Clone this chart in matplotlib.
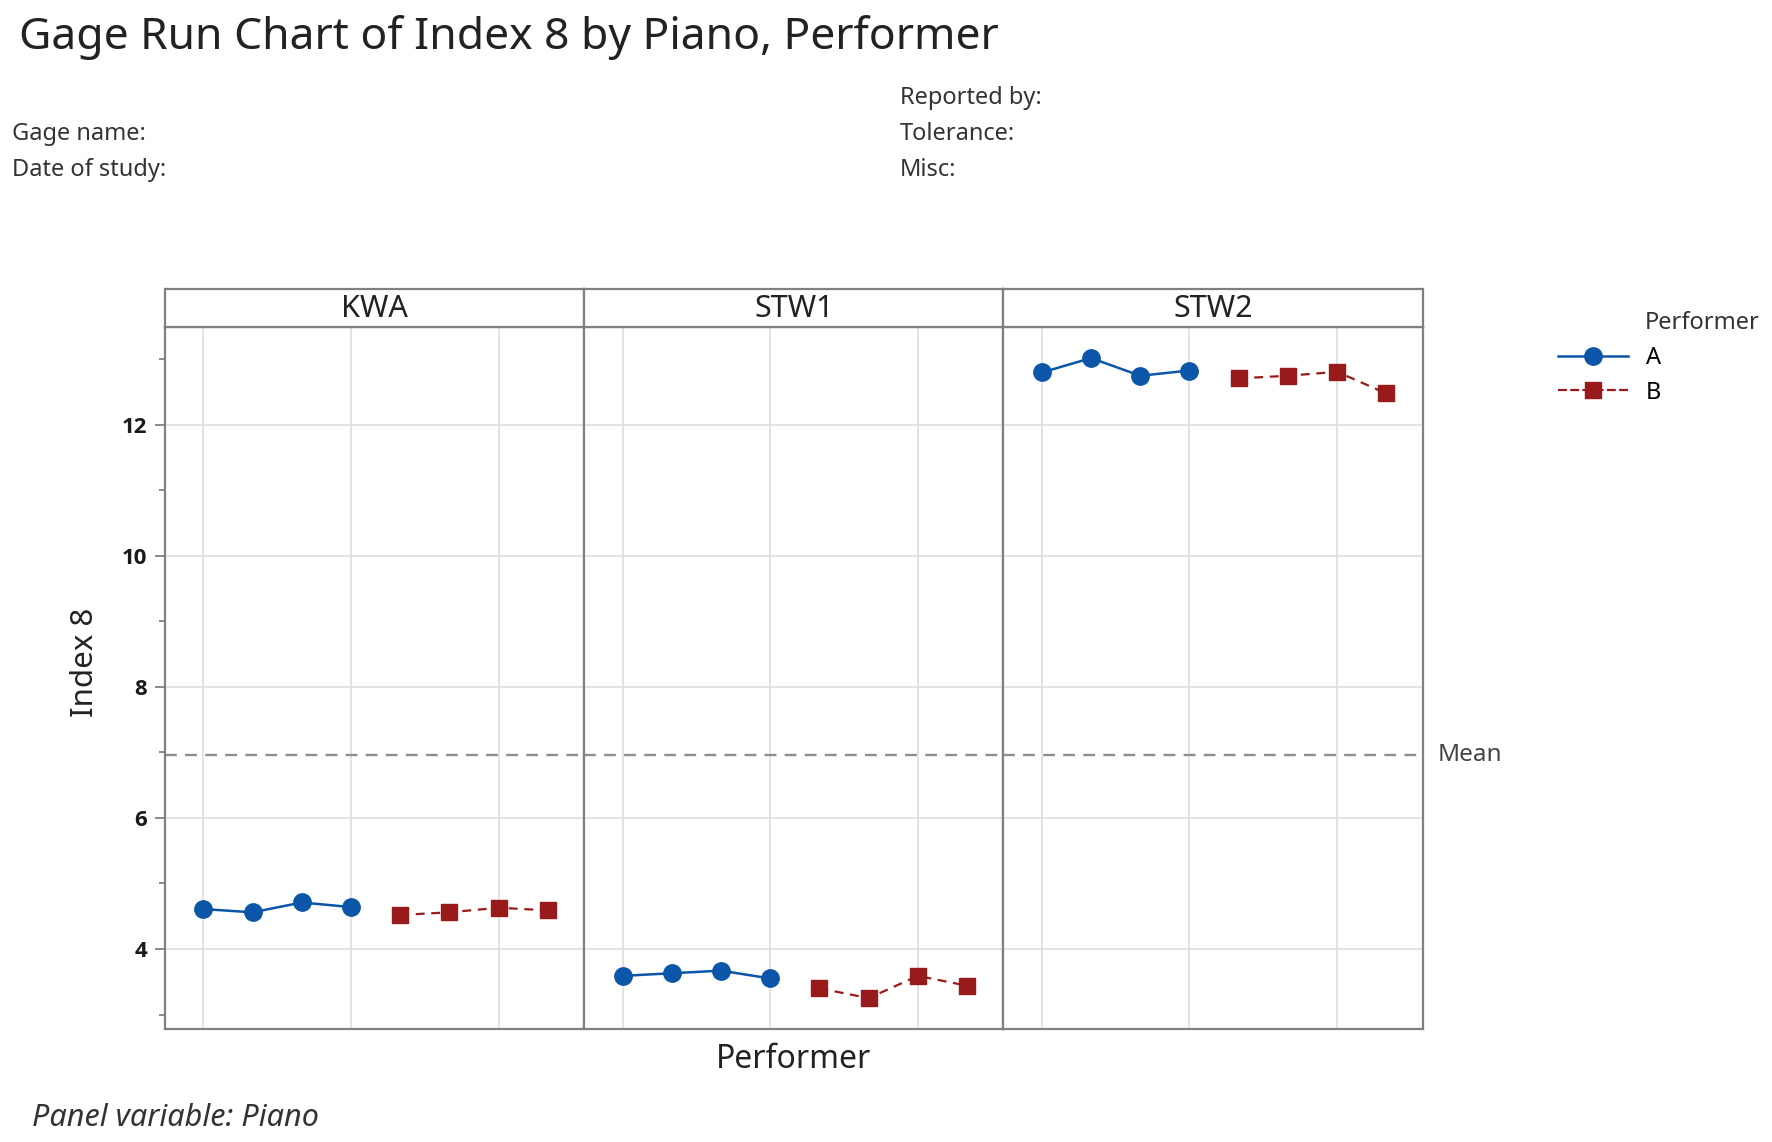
import matplotlib
matplotlib.use("Agg")
import matplotlib.pyplot as plt
import matplotlib.transforms as mtransforms
from matplotlib.lines import Line2D
import numpy as np

plt.rcParams['font.family'] = ['Noto Sans', 'DejaVu Sans']

# ---- data ----
pianos = ["KWA", "STW1", "STW2"]
performers = ["A", "B"]
obs_A = [1, 2, 3, 4]
obs_B = [5, 6, 7, 8]
kwa_A = [4.61, 4.56, 4.71, 4.64]
kwa_B = [4.52, 4.56, 4.63, 4.59]
stw1_A = [3.59, 3.63, 3.67, 3.55]
stw1_B = [3.40, 3.25, 3.59, 3.44]
stw2_A = [12.80, 13.02, 12.75, 12.83]
stw2_B = [12.71, 12.75, 12.81, 12.48]
yticks = [4, 6, 8, 10, 12]
ytick_labels = ["4", "6", "8", "10", "12"]
minor_yticks = [3, 5, 7, 9, 11, 13]
xgrid = [1, 4, 7]

series_A = [kwa_A, stw1_A, stw2_A]
series_B = [kwa_B, stw1_B, stw2_B]
mean_val = np.mean(np.concatenate([np.array(s) for s in series_A + series_B]))

col_A = "#0B56A8"
col_B = "#981A1A"
frame_col = "#808080"
grid_col = "#E0E0E0"

W, H = 1772, 1142
fig = plt.figure(figsize=(W / 100, H / 100), dpi=100)

# header
fig.text(0.011, 0.967, "Gage Run Chart of Index 8 by Piano, Performer",
         fontsize=32, va="center", ha="left", color="#222222")
hfs = 17
fig.text(0.007, 0.883, "Gage name:", fontsize=hfs, va="center", color="#333333")
fig.text(0.007, 0.851, "Date of study:", fontsize=hfs, va="center", color="#333333")
fig.text(0.508, 0.914, "Reported by:", fontsize=hfs, va="center", color="#333333")
fig.text(0.508, 0.883, "Tolerance:", fontsize=hfs, va="center", color="#333333")
fig.text(0.508, 0.851, "Misc:", fontsize=hfs, va="center", color="#333333")

left0 = 0.0931
pw = 0.2366
bottom = 0.099
top = 0.714
strip_h = 0.0325
ylim = (2.78, 13.5)
xlim = (0.22, 8.74)

axes = []
for i, piano in enumerate(pianos):
    ax = fig.add_axes([left0 + i * pw, bottom, pw, top - bottom])
    ax.set_xlim(*xlim)
    ax.set_ylim(*ylim)
    for yt in yticks:
        ax.axhline(yt, color=grid_col, lw=1.3, zorder=0)
    for xg in xgrid:
        ax.axvline(xg, color=grid_col, lw=1.3, zorder=0)
    ax.axhline(mean_val, color="#8E8E8E", lw=1.7, ls=(0, (5, 3.5)), zorder=1)
    ax.plot(obs_A, series_A[i], color=col_A, lw=1.8, marker="o",
            markersize=12.5, zorder=3)
    ax.plot(obs_B, series_B[i], color=col_B, lw=1.6, ls=(0, (4, 3)),
            marker="s", markersize=12, zorder=3)
    ax.set_xticks([])
    for s in ax.spines.values():
        s.set_color(frame_col)
        s.set_linewidth(1.6)
    if i == 0:
        ax.set_yticks(yticks)
        ax.set_yticklabels(ytick_labels, fontsize=16, fontweight="bold",
                           family=["Open Sans", "DejaVu Sans"], color="#1A1A1A")
        ax.set_yticks(minor_yticks, minor=True)
        ax.tick_params(axis="y", which="major", length=7, width=1.3,
                       color=frame_col, pad=6)
        ax.tick_params(axis="y", which="minor", length=4, width=1.3,
                       color=frame_col)
    else:
        ax.set_yticks([])
        ax.set_yticks([], minor=True)
    # strip
    sax = fig.add_axes([left0 + i * pw, top, pw, strip_h])
    sax.set_xticks([])
    sax.set_yticks([])
    for s in sax.spines.values():
        s.set_color(frame_col)
        s.set_linewidth(1.6)
    sax.text(0.5, 0.47, piano, ha="center", va="center", fontsize=22,
             color="#222222", transform=sax.transAxes)
    axes.append(ax)

# mean label
trans = mtransforms.blended_transform_factory(axes[2].transAxes, axes[2].transData)
axes[2].text(1.035, mean_val, "Mean", transform=trans, ha="left", va="center",
             fontsize=17.5, color="#444444")

fig.text(left0 + 1.5 * pw, 0.072, "Performer", ha="center", va="center",
         fontsize=23, color="#222222")
fig.text(0.048, 0.42, "Index 8", ha="center", va="center", rotation=90,
         fontsize=22.5, color="#222222")
fig.text(0.018, 0.021, "Panel variable: Piano", ha="left", va="center",
         fontsize=22, style="italic", color="#333333")

# legend
lfs = 17
fig.text(0.928, 0.717, "Performer", ha="left", va="center", fontsize=lfs,
         color="#333333")
handles = [Line2D([], [], color=col_A, lw=1.8, marker="o", markersize=12.5),
           Line2D([], [], color=col_B, lw=1.6, ls=(0, (4, 1.5)), marker="s",
                  markersize=12)]
fig.legend(handles, performers, loc="upper left", bbox_to_anchor=(0.879, 0.697),
           frameon=False, fontsize=lfs, handlelength=3.0, handletextpad=0.75,
           labelspacing=0.45, borderpad=0, borderaxespad=0)

fig.savefig("out.png", dpi=100)
